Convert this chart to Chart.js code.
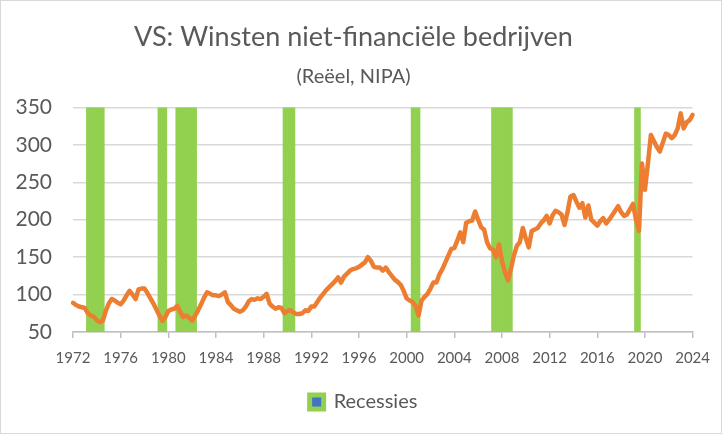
<!DOCTYPE html>
<html>
<head>
<meta charset="utf-8">
<script src="https://cdn.jsdelivr.net/npm/chart.js@4"></script>
<style>
  html, body { margin: 0; padding: 0; background: #fff; }
  #wrap { width: 722px; height: 434px; box-sizing: border-box; border: 1px solid #d9d9d9; }
</style>
</head>
<body>
<div id="wrap"><canvas id="chart"></canvas></div>
<script>
// 1. Data: real profits of US non-financial corporations, quarterly from 1972-Q1
const startYear = 1972;
const profits = [
    89, 86, 84, 83,      // 1972
    82, 75, 72, 70,      // 1973
    66, 63, 65, 78,      // 1974
    88, 94, 92, 89,      // 1975
    87, 92, 99, 105,     // 1976
    100, 94, 107, 108,   // 1977
    108, 102, 95, 88,    // 1978
    80, 72, 65, 70,      // 1979
    78, 80, 81, 85,      // 1980
    77, 70, 72, 69,      // 1981
    65, 72, 79, 87,      // 1982
    96, 103, 101, 99,    // 1983
    99, 98, 100, 103,    // 1984
    90, 86, 81, 79,      // 1985
    77, 79, 84, 91,      // 1986
    94, 93, 95, 94,      // 1987
    97, 101, 88, 84,     // 1988
    81, 83, 82, 75,      // 1989
    78, 79, 76, 74,      // 1990
    74, 75, 79, 78,      // 1991
    84, 84, 90, 96,      // 1992
    101, 106, 110, 114,  // 1993
    118, 123, 116, 124,  // 1994
    128, 132, 134, 135,  // 1995
    137, 140, 143, 150,  // 1996
    145, 137, 136, 136,  // 1997
    132, 136, 130, 125,  // 1998
    120, 117, 113, 105,  // 1999
    95, 92, 90, 85,      // 2000
    72, 92, 97, 101,     // 2001
    108, 116, 116, 127,  // 2002
    134, 143, 152, 161,  // 2003
    162, 172, 183, 170,  // 2004
    196, 198, 199, 211,  // 2005
    200, 190, 187, 170,  // 2006
    162, 160, 150, 167,  // 2007
    145, 130, 119, 134,  // 2008
    152, 165, 170, 189,  // 2009
    175, 163, 185, 187,  // 2010
    189, 195, 199, 205,  // 2011
    195, 206, 212, 210,  // 2012
    207, 193, 210, 231,  // 2013
    233, 224, 216, 222,  // 2014
    203, 219, 200, 196,  // 2015
    192, 198, 202, 195,  // 2016
    200, 206, 212, 218,  // 2017
    210, 205, 207, 214,  // 2018
    221, 200, 185, 275,  // 2019
    240, 275, 313, 305,  // 2020
    297, 291, 303, 315,  // 2021
    313, 309, 313, 322,  // 2022
    342, 322, 330, 333,  // 2023
    340                  // 2024
];

// recession periods (first and last quarter), as drawn in the source chart
const recessions = [
    ['1973-Q2', '1974-Q3'],
    ['1979-Q2', '1979-Q4'],
    ['1980-Q4', '1982-Q2'],
    ['1989-Q4', '1990-Q3'],
    ['2000-Q3', '2001-Q1'],
    ['2007-Q2', '2008-Q4'],
    ['2019-Q2', '2019-Q3']
];

const tickYears = [1972, 1976, 1980, 1984, 1988, 1992, 1996, 2000, 2004, 2008, 2012, 2016, 2020, 2024];
const yTicks = [50, 100, 150, 200, 250, 300, 350];

// 2. Build the quarter labels and the recession bars
const quarters = profits.map((v, i) => (startYear + Math.floor(i / 4)) + '-Q' + (i % 4 + 1));
const recessionBars = quarters.map(q =>
    recessions.some(r => q >= r[0] && q <= r[1]) ? yTicks[yTicks.length - 1] : null
);

const grey = '#595959';
const font = 'Lato, "Open Sans", sans-serif';

// nudge the legend so it sits centred under the plot, like the Excel original
const legendShift = {
    id: 'legendShift',
    afterLayout(chart) {
        chart.legend.left += 10;
        chart.legend.right += 10;
        chart.legend.top += 4;
        chart.legend.bottom += 4;
    }
};

// 3. Chart
new Chart(document.getElementById('chart'), {
    type: 'bar',
    data: {
        labels: quarters,
        datasets: [{
            label: 'Recessies',
            data: recessionBars,
            backgroundColor: '#92D050',
            barPercentage: 1,
            categoryPercentage: 1,
            order: 2
        }, {
            type: 'line',
            label: 'Winsten',
            data: profits,
            borderColor: '#ED7D31',
            borderWidth: 4.5,
            pointRadius: 0,
            tension: 0,
            borderJoinStyle: 'round',
            borderCapStyle: 'round',
            order: 1
        }]
    },
    plugins: [legendShift],
    options: {
        responsive: true,
        maintainAspectRatio: false,
        animation: false,
        layout: { padding: { left: 8, right: 23, top: 0, bottom: 15 } },
        plugins: {
            title: {
                display: true,
                text: 'VS: Winsten niet-financiële bedrijven',
                color: grey,
                font: { family: font, size: 27, weight: 'normal' },
                padding: { top: 20, bottom: 6 }
            },
            subtitle: {
                display: true,
                text: '(Reëel, NIPA)',
                color: grey,
                font: { family: font, size: 20, weight: 'normal' },
                padding: { top: 5, bottom: 19 }
            },
            legend: {
                position: 'bottom',
                labels: {
                    color: grey,
                    font: { family: font, size: 20 },
                    boxWidth: 14,
                    boxHeight: 14,
                    padding: 10,
                    generateLabels: () => [{
                        text: 'Recessies',
                        fillStyle: '#4472C4',
                        strokeStyle: '#92D050',
                        lineWidth: 5,
                        fontColor: grey,
                        datasetIndex: 0
                    }]
                }
            },
            tooltip: { enabled: false }
        },
        scales: {
            x: {
                offset: false,
                grid: {
                    offset: false,
                    drawOnChartArea: false,
                    drawTicks: true,
                    tickLength: 6,
                    color: '#bfbfbf',
                    lineWidth: 1.5
                },
                border: { color: '#bfbfbf', width: 1.5 },
                ticks: {
                    autoSkip: false,
                    maxRotation: 0,
                    color: grey,
                    font: { family: font, size: 15 },
                    padding: 11,
                    callback: function (value, index) {
                        const q = quarters[index];
                        const year = Number(q.slice(0, 4));
                        return q.endsWith('Q1') && tickYears.includes(year) ? String(year) : null;
                    }
                }
            },
            y: {
                min: yTicks[0],
                max: yTicks[yTicks.length - 1],
                afterBuildTicks: scale => { scale.ticks = yTicks.map(v => ({ value: v })); },
                afterFit: scale => { scale.width = 64; },
                grid: { color: '#d9d9d9', lineWidth: 1.5, drawTicks: false },
                border: { display: false },
                ticks: {
                    color: grey,
                    font: { family: font, size: 21 },
                    padding: 21
                }
            }
        }
    }
});
</script>
</body>
</html>
